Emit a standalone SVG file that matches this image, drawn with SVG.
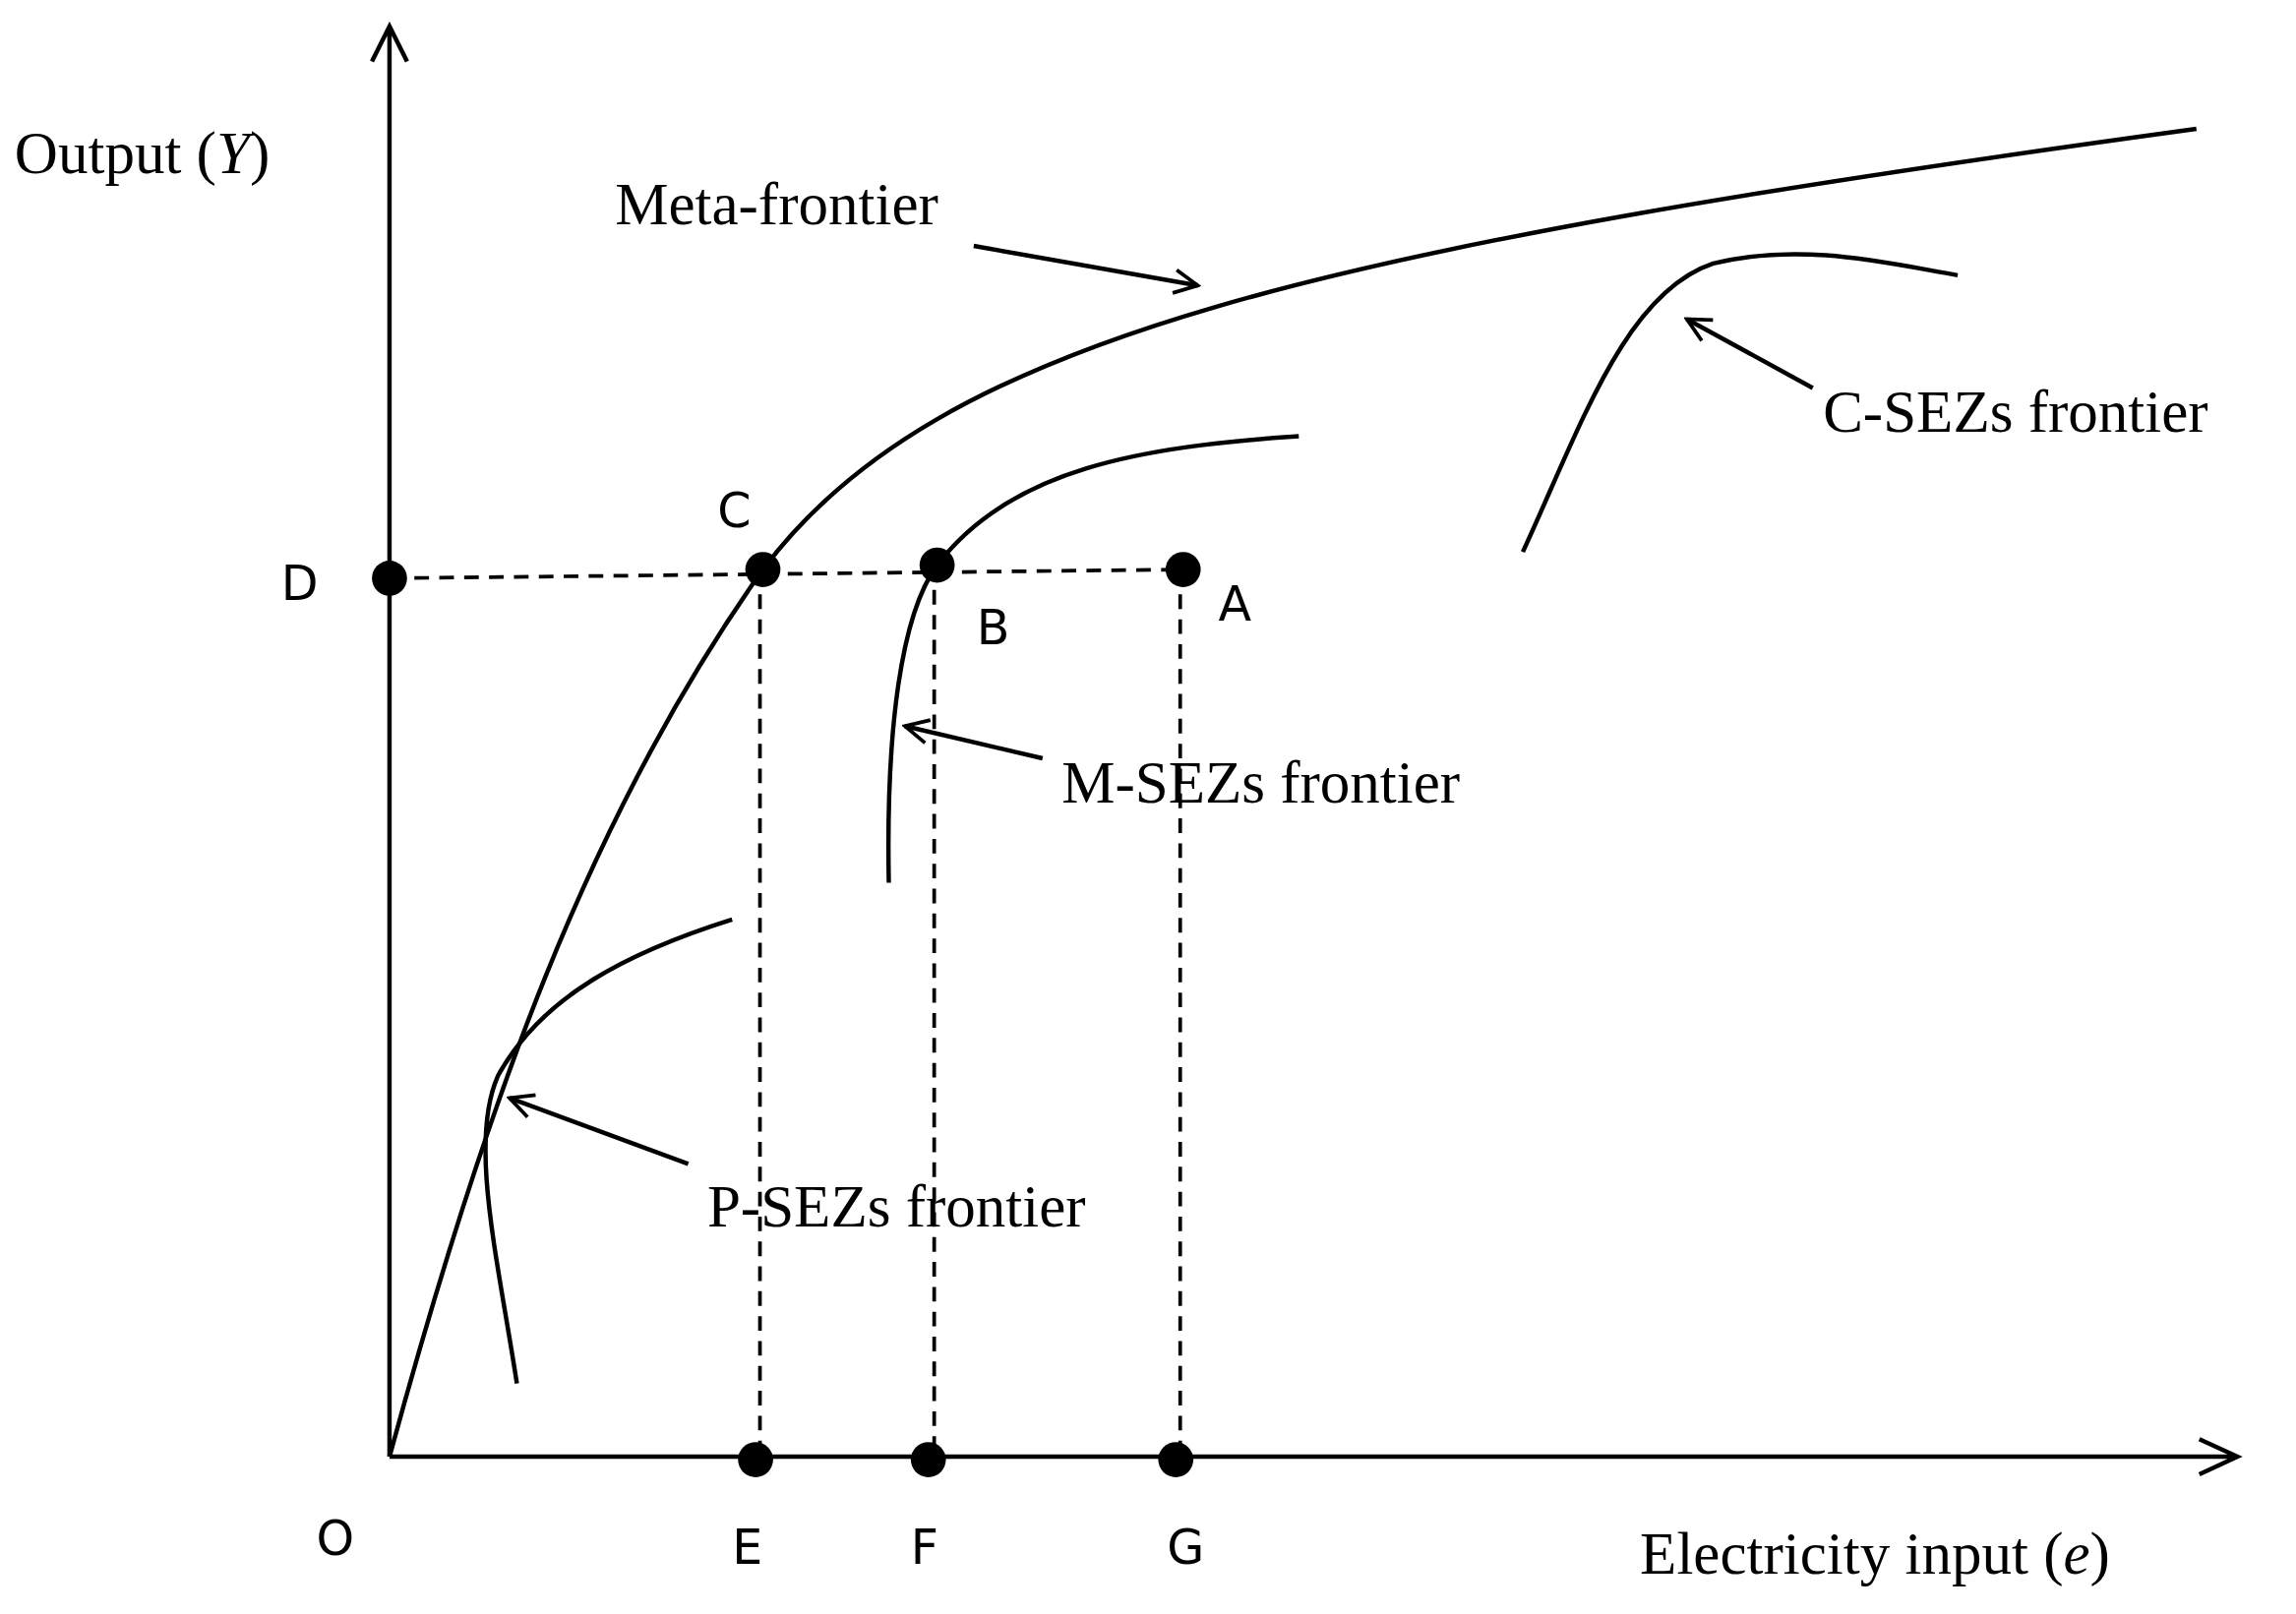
<svg xmlns="http://www.w3.org/2000/svg" width="2334" height="1641" viewBox="0 0 2334 1641">
<defs>
<style>
.ln{fill:none;stroke:#000;stroke-width:3}
.ds{fill:none;stroke:#000;stroke-width:2.5;stroke-dasharray:10 7}
.sf{font-family:"Liberation Serif",serif;font-size:41px;fill:#000}
.ss{font-family:"DejaVu Sans","Liberation Sans",sans-serif;font-size:33px;fill:#000}
</style>
<marker id="oa" viewBox="0 0 20 20" refX="18" refY="10" markerWidth="20" markerHeight="20" markerUnits="userSpaceOnUse" orient="auto"><path d="M2,2 L18,10 L2,18" fill="none" stroke="#000" stroke-width="2.5"/></marker>
</defs>
<rect width="2334" height="1641" fill="#fff"/>
<g transform="scale(1.4885)">
<g id="connectors">
<path class="ln" d="M266,995 V20 M254,42 L266,18 L278,42"/>
<path class="ln" d="M266,995 H1526 M1502,983 L1528,995 L1502,1007"/>
<path class="ds" d="M266,395 L808,389"/>
<path class="ds" d="M519,389 V997 M638,386 V997 M806,389 V997"/>
<path class="ln" d="M266,995 C330,760 400,560 521,389 C640,230 900,170 1500,88"/>
<path class="ln" d="M607,603 C605,500 615,420 640,386 C690,320 780,305 887,298"/>
<path class="ln" d="M1040,377 C1080,290 1110,200 1170,180 C1230,165 1290,180 1337,188"/>
<path class="ln" d="M353,945 C340,860 320,780 340,735 C370,680 430,650 500,628"/>
<path class="ln" stroke-width="2.5" marker-end="url(#oa)" d="M665,168 L818,195"/>
<path class="ln" stroke-width="2.5" marker-end="url(#oa)" d="M1238,265 L1152,218"/>
<path class="ln" stroke-width="2.5" marker-end="url(#oa)" d="M712,518 L618,496"/>
<path class="ln" stroke-width="2.5" marker-end="url(#oa)" d="M470,795 L348,750"/>
</g>
<g id="points">
<circle cx="266" cy="395" r="12"/><circle cx="521" cy="389" r="12"/><circle cx="640" cy="386" r="12"/><circle cx="808" cy="389" r="12"/>
<circle cx="516" cy="997" r="12"/><circle cx="634" cy="997" r="12"/><circle cx="803" cy="997" r="12"/>
</g>
<g id="labels">
<text class="sf" x="10" y="118">Output (<tspan font-style="italic">Y</tspan>)</text>
<text class="sf" x="420" y="153">Meta-frontier</text>
<text class="sf" x="1245" y="295">C-SEZs frontier</text>
<text class="sf" x="725" y="548">M-SEZs frontier</text>
<text class="sf" x="483" y="838">P-SEZs frontier</text>
<text class="sf" x="1120" y="1075">Electricity input (<tspan font-style="italic">e</tspan>)</text>
<text class="ss" x="216" y="1062">O</text>
<text class="ss" x="500" y="1068">E</text>
<text class="ss" x="622" y="1068">F</text>
<text class="ss" x="797" y="1068">G</text>
<text class="ss" x="192" y="410">D</text>
<text class="ss" x="490" y="360">C</text>
<text class="ss" x="667" y="440">B</text>
<text class="ss" x="832" y="424">A</text>
</g>
</g>
</svg>
